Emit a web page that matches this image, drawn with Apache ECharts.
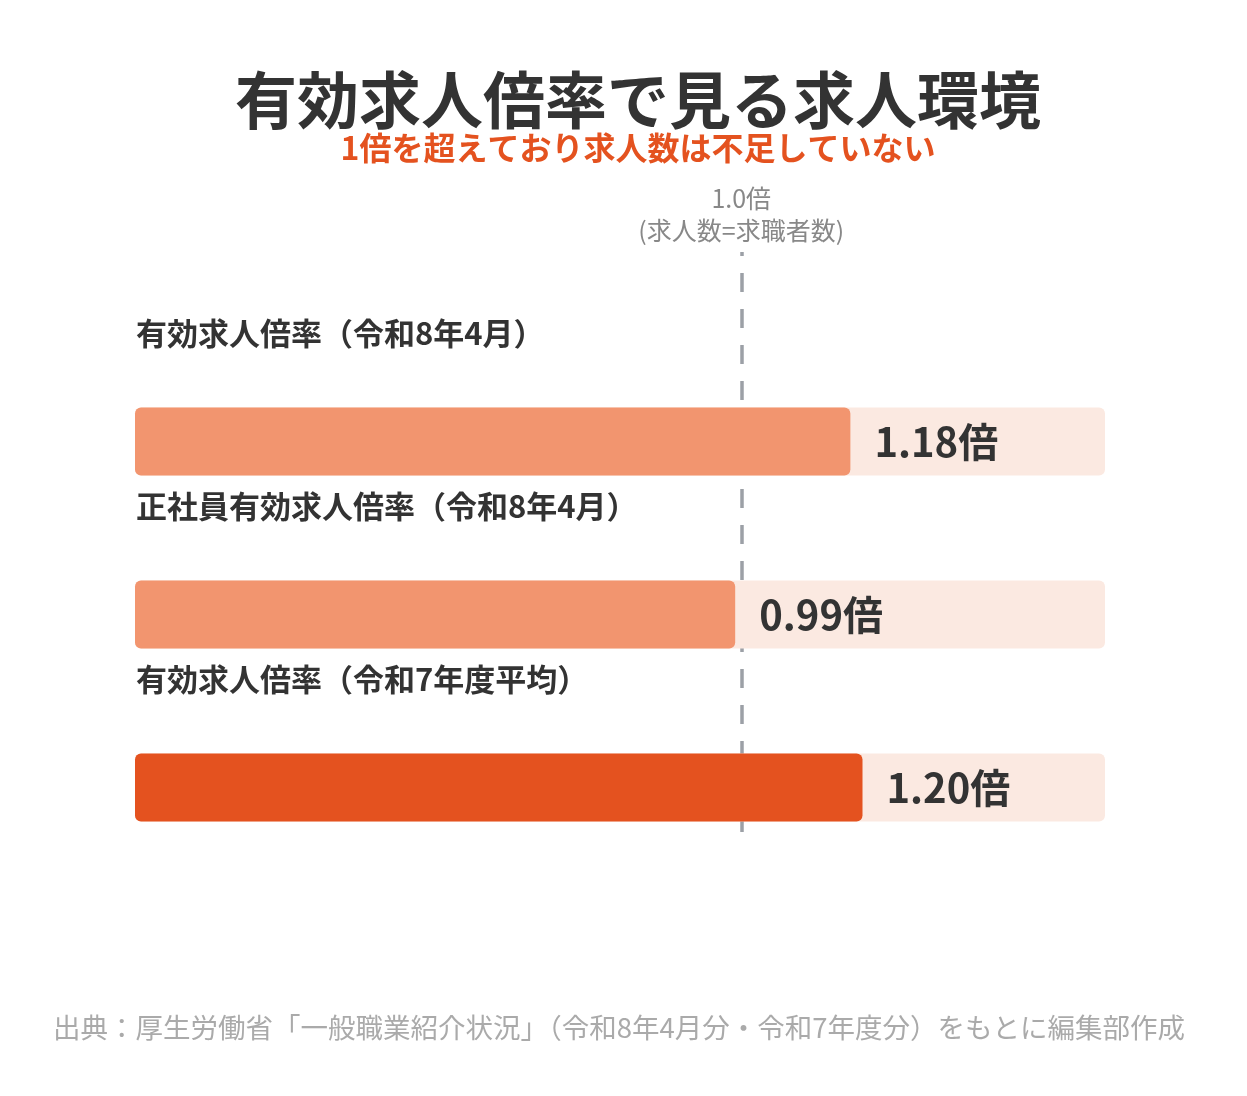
<!DOCTYPE html>
<html>
<head>
<meta charset="utf-8">
<script src="https://cdn.jsdelivr.net/npm/echarts@6/dist/echarts.min.js"></script>
<style>
  html, body { margin: 0; padding: 0; background: #fff; }
  #chart { width: 1247px; height: 1096px; }
</style>
</head>
<body>
<div id="chart"></div>
<script>
// 項目名
const categories = ['有効求人倍率（令和8年4月）', '正社員有効求人倍率（令和8年4月）', '有効求人倍率（令和7年度平均）'];
// 倍率
const ratios = [1.18, 0.99, 1.20];
// 基準線（求人数=求職者数）
const baseLine = 1.0;
const axisMax = 1.6;

const font = '"Noto Sans CJK JP", "Noto Sans", sans-serif';
const barColors = ['#f2956f', '#f2956f', '#e4521f'];

let myChart = echarts.init(document.getElementById('chart'));
myChart.setOption({
  animation: false,
  textStyle: { fontFamily: font },
  graphic: [
    { type: 'text', x: 638, y: 100, style: { text: '有効求人倍率で見る求人環境', font: 'bold 62px ' + font, fill: '#333', align: 'center', verticalAlign: 'middle' } },
    { type: 'text', x: 638, y: 148, style: { text: '1倍を超えており求人数は不足していない', font: 'bold 32px ' + font, fill: '#e4521f', align: 'center', verticalAlign: 'middle' } },
    { type: 'text', x: 619, y: 1028, style: { text: '出典：厚生労働省「一般職業紹介状況」（令和8年4月分・令和7年度分）をもとに編集部作成', font: '27.5px ' + font, fill: '#aaa', align: 'center', verticalAlign: 'middle' } }
  ],
  grid: [
    { left: 135, right: 142, top: 355, height: 519 },
    { left: 135, right: 142, top: 252, height: 580 }
  ],
  xAxis: [
    { type: 'value', gridIndex: 0, min: 0, max: axisMax, show: false },
    { type: 'value', gridIndex: 1, min: 0, max: axisMax, show: false }
  ],
  yAxis: [
    {
      type: 'category', gridIndex: 0, inverse: true, data: categories,
      axisLine: { show: false }, axisTick: { show: false }, axisLabel: { show: false }
    },
    { type: 'value', gridIndex: 1, min: 0, max: 1, show: false }
  ],
  series: [
    {
      type: 'scatter', xAxisIndex: 1, yAxisIndex: 1, data: [], z: 1,
      markLine: {
        silent: true, symbol: 'none', z: 1,
        lineStyle: { color: '#9ca0a6', type: [19, 17], width: 3.5 },
        label: {
          position: 'end', distance: 6,
          formatter: baseLine.toFixed(1) + '倍\n(求人数=求職者数)',
          color: '#888', fontSize: 25, lineHeight: 32, fontFamily: font
        },
        data: [{ xAxis: baseLine }]
      }
    },
    {
      type: 'bar', xAxisIndex: 0, yAxisIndex: 0, z: 3,
      barWidth: 68,
      data: ratios.map((v, i) => ({ value: v, itemStyle: { color: barColors[i] } })),
      itemStyle: { borderRadius: 6 },
      showBackground: true,
      backgroundStyle: { color: '#fbe9e1', borderRadius: 6 },
      label: {
        show: true, position: 'right', distance: 24,
        formatter: p => p.value.toFixed(2) + '倍',
        color: '#333', fontSize: 40, fontWeight: 'bold', fontFamily: font
      }
    },
    {
      // 項目名ラベル（バーの上）
      type: 'bar', xAxisIndex: 0, yAxisIndex: 0, z: 4, silent: true,
      barWidth: 68, barGap: '-100%',
      data: ratios,
      itemStyle: { color: 'rgba(0,0,0,0)' },
      label: {
        show: true, position: 'insideLeft', distance: 1, offset: [0, -108],
        formatter: p => p.name,
        color: '#333', fontSize: 31, fontWeight: 'bold', fontFamily: font
      }
    }
  ]
});
</script>
</body>
</html>
